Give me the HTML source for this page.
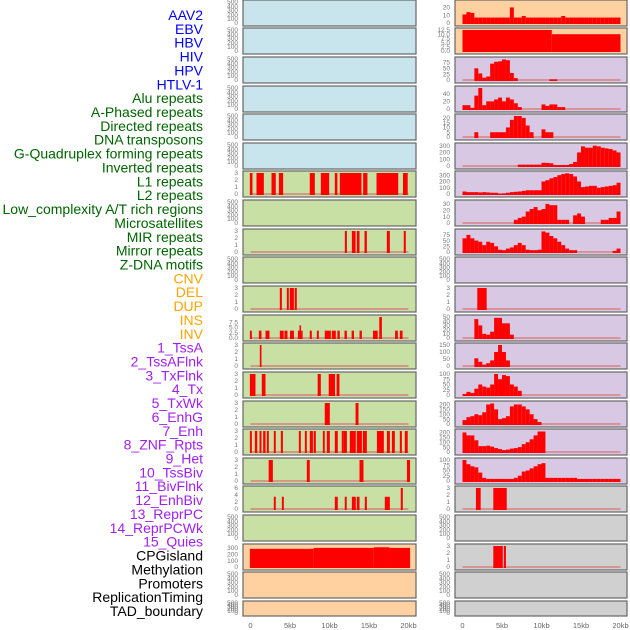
<!DOCTYPE html>
<html><head><meta charset="utf-8"><style>
html,body{margin:0;padding:0;background:#fff;width:630px;height:630px;overflow:hidden}
svg{display:block;font-family:"Liberation Sans",sans-serif}
</style></head><body>
<svg id="chart" width="630" height="630"></svg>
<script>
const labels=["AAV2","EBV","HBV","HIV","HPV","HTLV-1","Alu repeats","A-Phased repeats","Directed repeats","DNA transposons","G-Quadruplex forming repeats","Inverted repeats","L1 repeats","L2 repeats","Low_complexity A/T rich regions","Microsatellites","MIR repeats","Mirror repeats","Z-DNA motifs","CNV","DEL","DUP","INS","INV","1_TssA","2_TssAFlnk","3_TxFlnk","4_Tx","5_TxWk","6_EnhG","7_Enh","8_ZNF_Rpts","9_Het","10_TssBiv","11_BivFlnk","12_EnhBiv","13_ReprPC","14_ReprPCWk","15_Quies","CPGisland","Methylation","Promoters","ReplicationTiming","TAD_boundary"];
const labelGroups=[6,13,5,15,5];
const groupColors=["#0000ff","#006400","#ffa500","#a020f0","#000000"];
const xTicks=[0,5,10,15,20];
const xTickLabels=["0","5kb","10kb","15kb","20kb"];
const emptyTicks=[0,100,200,300,400,500];
// left column
const L1bars=[[-0.08,0.25],[0.76,1.69],[2.66,3.2],[3.59,4.13],[7.5,8.14],[8.9,9.96],[10.67,11.0],[11.3,14.05],[14.26,14.8],[15.95,18.7],[19.3,19.9]];
const L9bars=[[11.94,12.2],[12.83,13.3],[13.46,13.8],[14.43,14.73],[17.26,17.64],[19.4,19.66]];
const L11bars=[[3.71,3.97],[4.6,4.85],[4.98,5.49],[5.6,5.86]];
const L12starts=[-0.08,1.06,1.9,3.71,4.3,5.0,6.0,6.2,6.4,7.5,8.4,9.4,10.3,11.0,11.9,12.8,13.8,15.5,16.3,18.3,18.9];
const L12ends=[0.17,1.39,2.4,4.2,4.68,5.5,6.2,6.4,6.6,7.76,8.65,10.17,10.8,11.3,12.2,13.1,14.1,16.1,16.63,18.65,19.25];
const L12heights=[3.5,3.5,3.5,3.5,3.5,3.5,3.5,6,3.5,3.5,3.5,3.5,3.5,3.5,3.5,3.5,3.5,3.5,10,3.5,3.5];
const L13bars=[[1.18,1.39]];
const L14bars=[[-0.08,0.63],[1.43,1.9],[8.5,8.9],[9.9,10.7],[10.9,11.26]];
const L15bars=[[9.4,10.04],[13.3,13.67]];
const L16bars=[[-0.08,0.17],[0.55,0.85],[1.14,1.39],[1.6,1.9],[2.07,2.32],[2.95,3.2],[3.84,4.1],[6.12,6.37],[6.88,7.13],[7.5,7.9],[8.0,8.27],[9.16,9.4],[9.66,10.04],[10.67,11.05],[11.55,11.8],[11.8,12.2],[12.57,13.33],[13.46,14.1],[14.22,14.73],[16.0,16.88],[17.26,17.64],[17.9,18.27],[18.9,19.16],[19.53,19.9]];
const L17bars=[[2.3,2.83],[7.13,7.5],[13.8,14.3],[19.8,20.2]];
const L18starts=[2.95,3.97,10.67,11.93,12.83,13.46,14.47,17.0,19.02];
const L18ends=[3.2,4.22,11.05,12.18,13.33,13.8,14.73,17.64,19.28];
const L18heights=[3.5,3.5,3.5,3.5,3.5,3.5,3.5,3.5,6];
const L20bars=[[-0.08,8.0,285],[8.0,15.6,300],[15.6,17.6,310],[17.6,20.2,300]];
// right column (0.5kb bins)
const R1vals=[11,14,13,7,7,7,7,7,7,7,7,7,20,7,7,9,7,7,7,7,7,7,7,7,7,9,7,7,7,7,7,7,7,7,7,7,7,7,7,7];
const R2bars=[[0,11.3,12.5],[11.3,20,10]];
const R3vals=[0,0,0,50,28,10,15,70,78,80,88,85,30,8,0,0,0,0,0,0,0,0,3,3,0,0,0,0,0,0,0,0,0,0,0,0,0,0,0,0];
const R4vals=[10,10,3,35,55,10,20,20,25,30,20,30,25,15,5,0,0,0,0,0,12,8,12,12,5,5,0,0,0,0,0,0,0,0,0,0,0,0,0,0];
const R5vals=[0,0,0,5,0,0,0,5,5,5,5,10,18,22,22,20,12,5,0,0,8,5,5,0,0,0,0,0,0,0,0,0,0,0,0,0,0,0,0,0];
const R6vals=[0,0,0,0,0,0,0,0,0,0,0,0,0,0,20,20,20,20,20,20,48,45,40,15,15,15,15,30,60,200,290,270,270,300,290,270,260,250,230,200];
const R7vals=[40,30,30,30,25,30,25,20,20,5,10,20,30,35,40,50,60,60,60,60,200,220,250,270,300,320,330,320,280,200,110,120,130,130,100,110,120,130,140,180];
const R8vals=[0,0,0,0,0,0,0,0,0,0,0,0,0,5,8,10,18,22,25,20,22,30,28,28,5,5,5,0,12,15,10,0,0,0,0,5,5,8,8,18];
const R9vals=[60,75,60,50,45,30,45,40,25,10,8,15,20,30,40,30,10,8,8,10,90,85,70,60,45,30,15,8,8,0,0,0,0,0,0,0,0,0,5,15];
const R11bars=[[1.87,3.06,3]];
const R12vals=[0,0,0,45,30,10,8,15,48,48,35,35,8,0,0,0,0,0,0,0,0,0,0,0,0,0,0,0,0,0,0,0,0,0,0,0,0,0,0,0];
const R13vals=[0,0,0,55,30,10,20,40,100,150,100,40,0,0,0,0,0,0,0,0,0,0,0,0,0,0,0,0,0,0,0,0,0,0,0,0,0,0,0,0];
const R14vals=[5,15,10,30,50,40,35,50,100,75,95,90,50,40,20,0,0,0,0,0,0,0,0,0,0,0,0,0,0,0,0,0,0,0,0,0,0,0,0,0];
const R15vals=[40,70,80,100,90,120,200,210,150,50,60,80,180,200,200,180,150,100,50,20,0,0,0,0,0,0,0,0,0,0,0,0,0,0,0,0,0,0,0,0];
const R16vals=[200,170,170,120,60,60,65,55,40,30,20,25,35,40,50,80,100,130,170,210,210,0,0,0,0,0,0,0,0,0,0,0,0,0,0,0,0,0,0,0];
const R17vals=[100,80,70,65,40,15,10,10,10,10,10,10,10,15,25,45,50,60,70,80,85,15,15,15,15,15,15,15,15,10,10,10,10,10,10,10,10,10,10,10];
const R18bars=[[1.7,2.3,3],[3.9,5.6,3]];
const R20bars=[[3.9,5.1,3],[5.23,5.5,3]];

const NS="http://www.w3.org/2000/svg";
const svg=document.getElementById("chart");
function el(tag,attrs,parent){const e=document.createElementNS(NS,tag);for(const k in attrs)e.setAttribute(k,attrs[k]);(parent||svg).appendChild(e);return e;}
const rowTops=[0,28,57,86,114,143,171,200,229,257,286,315,343,372,401,429,458,486,515,544,572,601];
const cols=[{x0:243,x1:416,zero:250.5},{x0:455,x1:627,zero:462.5}];
const pxPerKb=7.9;
function xs(c,kb){return cols[c].zero+kb*pxPerKb;}
function rowH(r){return r===21?15:26;}
function ys(r,v,ymax){const b=rowTops[r]+rowH(r)-3;return b-v/ymax*(rowH(r)-5);}

let gi=0,cnt=0;
labels.forEach((t,i)=>{
  while(cnt>=labelGroups[gi]){gi++;cnt=0;}
  cnt++;
  const e=el("text",{x:203,y:15+i*13.86+5,"text-anchor":"end","font-size":"14",fill:groupColors[gi]});
  e.textContent=t;
  
  
});

const leftColor=r=>r<6?"#c8e4ec":(r<19?"#c8e0a4":"#ffd0a0");
const rightColor=r=>r<2?"#ffd0a0":(r<17?"#d8c8e4":"#d0d0d0");

const left={6:{t:"bars",b:L1bars,ymax:3},8:{t:"bars",b:L9bars,ymax:3},10:{t:"bars",b:L11bars,ymax:3},
 11:{t:"vb",s:L12starts,e:L12ends,h:L12heights,ymax:10,ticks:[0,2.5,5,7.5],tl:["0.0","2.5","5.0","7.5"]},
 12:{t:"bars",b:L13bars,ymax:3},13:{t:"bars",b:L14bars,ymax:3},14:{t:"bars",b:L15bars,ymax:3},15:{t:"bars",b:L16bars,ymax:3},
 16:{t:"bars",b:L17bars,ymax:3},17:{t:"vb",s:L18starts,e:L18ends,h:L18heights,ymax:6,ticks:[0,2,4,6]},
 19:{t:"bars",b:L20bars,ymax:330,ticks:[0,100,200,300]}};
const right={0:{t:"hist",v:R1vals,ymax:27,ticks:[0,10,20]},1:{t:"bars",b:R2bars,ymax:12.5,ticks:[0,2.5,5,7.5,10,12.5],tl:["0.0","2.5","5.0","7.5","10.0","12.5"]},
 2:{t:"hist",v:R3vals,ymax:90,ticks:[0,25,50,75]},3:{t:"hist",v:R4vals,ymax:55,ticks:[0,20,40]},4:{t:"hist",v:R5vals,ymax:22,ticks:[0,5,10,15,20]},
 5:{t:"hist",v:R6vals,ymax:310,ticks:[0,100,200,300]},6:{t:"hist",v:R7vals,ymax:335,ticks:[0,100,200,300]},7:{t:"hist",v:R8vals,ymax:33,ticks:[0,10,20,30]},
 8:{t:"hist",v:R9vals,ymax:92,ticks:[0,25,50,75]},10:{t:"bars",b:R11bars,ymax:3},11:{t:"hist",v:R12vals,ymax:50,ticks:[0,10,20,30,40,50]},
 12:{t:"hist",v:R13vals,ymax:150,ticks:[0,50,100,150]},13:{t:"hist",v:R14vals,ymax:100,ticks:[0,25,50,75,100]},14:{t:"hist",v:R15vals,ymax:215,ticks:[0,50,100,150,200]},
 15:{t:"hist",v:R16vals,ymax:215,ticks:[0,50,100,150,200]},16:{t:"hist",v:R17vals,ymax:100,ticks:[0,25,50,75,100]},17:{t:"bars",b:R18bars,ymax:3},19:{t:"bars",b:R20bars,ymax:3}};

function drawPanel(c,r,spec){
  const top=rowTops[r],h=rowH(r);
  const g=el("g",{});
  
  
  el("rect",{x:cols[c].x0,y:top,width:cols[c].x1-cols[c].x0,height:h,fill:c?rightColor(r):leftColor(r),stroke:"#666","stroke-width":1.2},g);
  let ymax=500,ticks=emptyTicks,tl=null;
  if(spec){ymax=spec.ymax;ticks=spec.ticks||[0,1,2,3];tl=spec.tl||null;}
  ticks.forEach((t,i)=>{
    const e=el("text",{x:cols[c].x0-5,y:ys(r,t,ymax)+2.2,"text-anchor":"end","font-size":"6.5",fill:"#777"},g);
    e.textContent=tl?tl[i]:String(t);
  });
  if(!spec)return;
  el("line",{x1:xs(c,0),x2:xs(c,20),y1:ys(r,0,ymax),y2:ys(r,0,ymax),stroke:"#d88080","stroke-width":1.5},g);
  const y0=ys(r,0,ymax)+1;
  const bar=(a,b,v)=>{const yt=ys(r,v,ymax);const e=el("rect",{x:xs(c,a),y:yt,width:Math.max(1.5,xs(c,b)-xs(c,a)),height:y0-yt,fill:"#ff0000"},g);
    };
  if(spec.t==="bars")spec.b.forEach(d=>bar(d[0],d[1],d.length>2?d[2]:ymax));
  if(spec.t==="vb")spec.s.forEach((s,i)=>bar(s,spec.e[i],spec.h[i]));
  if(spec.t==="hist")spec.v.forEach((v,i)=>{if(v>0)bar(i*0.5,i*0.5+0.5,v);});
}
for(let r=0;r<22;r++){drawPanel(0,r,left[r]);drawPanel(1,r,right[r]);}
[0,1].forEach(c=>xTicks.forEach((t,i)=>{
  const e=el("text",{x:xs(c,t),y:628,"text-anchor":"middle","font-size":"7.5",fill:"#666"});
  e.textContent=xTickLabels[i];
  
  
}));
</script>
</body></html>
